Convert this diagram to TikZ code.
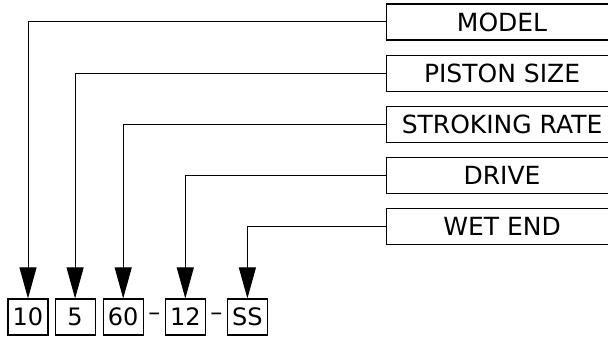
\documentclass[tikz,border=0pt]{standalone}
\usepackage{fontspec}
\setmainfont{DejaVu Sans}
\usetikzlibrary{positioning,arrows.meta,calc}

\begin{document}
\begin{tikzpicture}[x=1pt,y=1pt,
    labelbox/.style={draw,line width=1.1pt,anchor=west,minimum width=232pt,
      minimum height=36pt,font=\fontsize{25}{30}\selectfont},
    digitbox/.style={draw,line width=1.1pt,minimum width=40pt,minimum height=36pt,
      inner sep=0pt,font=\fontsize{24}{28}\selectfont},
    pointer/.style={line width=1pt,-{Triangle[length=31pt,width=17pt]}},
    node distance=14pt]
  \useasboundingbox (0,0) rectangle (608,339);
  \clip (0,0) rectangle (608,339);

  \node [labelbox] (model) at (385.5,317) {MODEL};
  \node [labelbox,below=of model] (size) {PISTON SIZE};
  \node [labelbox,below=of size] (rate) {STROKING RATE};
  \node [labelbox,below=of rate] (drive) {DRIVE};
  \node [labelbox,below=of drive] (wetend) {WET END};

  \node [digitbox] (ten) at (28,22) {10};
  \node [digitbox,right=6pt of ten] (five) {5};
  \node [digitbox,right=7pt of five] (sixty) {60};
  \node [digitbox,right=21pt of sixty] (twelve) {12};
  \node [digitbox,right=21pt of twelve] (ss) {SS};
  \node [font=\fontsize{24}{28}\selectfont,inner sep=0pt] (dasha)
    at ($(sixty.east)!0.5!(twelve.west)$) {--};
  \node [font=\fontsize{24}{28}\selectfont,inner sep=0pt] (dashb)
    at ($(twelve.east)!0.5!(ss.west)$) {--};

  \draw [pointer] (model.west) -| (ten.north);
  \draw [pointer] (size.west) -| (five.north);
  \draw [pointer] (rate.west) -| (sixty.north);
  \draw [pointer] (drive.west) -| (twelve.north);
  \draw [pointer] (wetend.west) -| (ss.north);
\end{tikzpicture}
\end{document}
